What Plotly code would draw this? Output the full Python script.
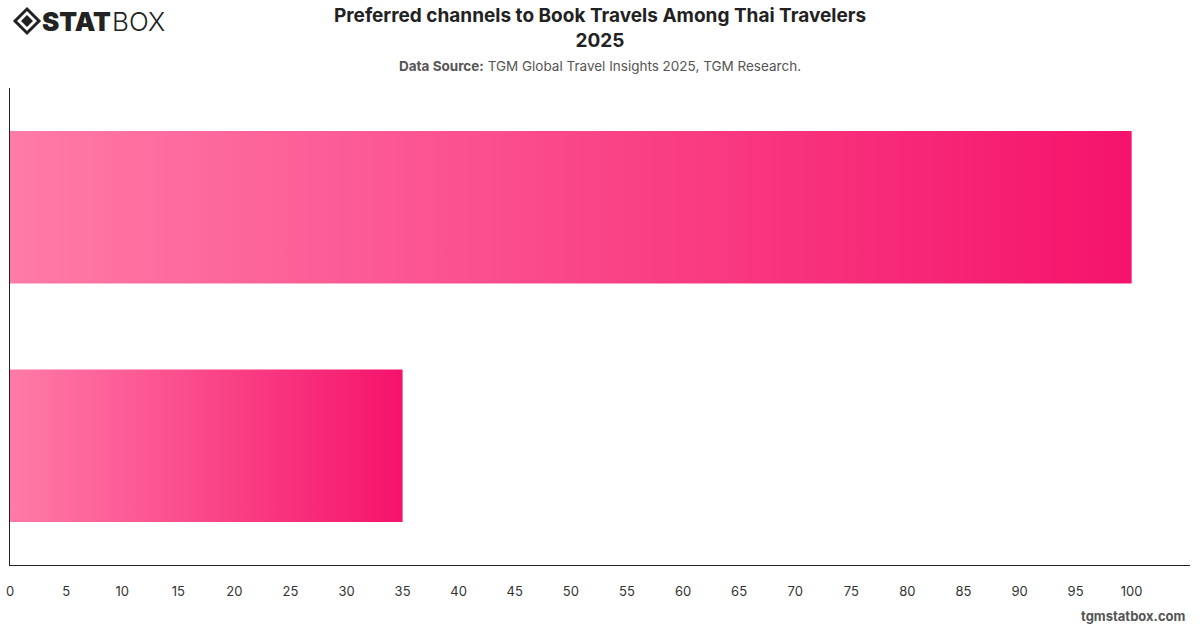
import plotly.graph_objects as go

categories = ["Online", "Offline"]
values = [35, 100]
x_ticks = list(range(0, 101, 5))
color_start = "#FF7BA7"
color_end = "#F5136B"

fig = go.Figure()
half = 0.32
for i, (cat, v) in enumerate(zip(categories, values)):
    fig.add_trace(go.Scatter(
        x=[0, v, v, 0, 0],
        y=[i - half, i - half, i + half, i + half, i - half],
        mode="lines",
        line=dict(width=0),
        fill="toself",
        fillgradient=dict(type="horizontal", colorscale=[[0, color_start], [1, color_end]],
                          start=0, stop=v),
        name=cat,
        hoverinfo="x+name",
        showlegend=False,
    ))

fig.update_layout(
    width=1200, height=628,
    margin=dict(l=10, r=10, t=88, b=63, autoexpand=False),
    paper_bgcolor="white", plot_bgcolor="white",
    font=dict(family="Inter, Roboto, Arial", color="#333"),
    xaxis=dict(range=[0, 105.2], tickmode="array", tickvals=x_ticks,
               ticktext=[str(t) for t in x_ticks], showgrid=False, zeroline=False,
               showline=True, linecolor="#222", linewidth=1, ticks="", automargin=False,
               ticklabelstandoff=14, tickfont=dict(size=13, color="#333")),
    yaxis=dict(range=[-0.5, 1.5], showticklabels=False, showgrid=False, zeroline=False,
               showline=True, linecolor="#222", linewidth=1, ticks="", automargin=False),
)

fig.add_annotation(xref="paper", yref="paper", x=0.5, y=1, xanchor="center", yanchor="bottom",
                   showarrow=False, yshift=34,
                   text="<b>Preferred channels to Book Travels Among Thai Travelers<br>2025</b>",
                   font=dict(size=19, color="#222"))
fig.add_annotation(xref="paper", yref="paper", x=0.5, y=1, xanchor="center", yanchor="bottom",
                   showarrow=False, yshift=12,
                   text="<b>Data Source:</b> TGM Global Travel Insights 2025, TGM Research.",
                   font=dict(size=13.5, color="#555"))
fig.add_annotation(xref="paper", yref="paper", x=1, y=0, xanchor="right", yanchor="top",
                   showarrow=False, yshift=-41, xshift=-2,
                   text="<b>tgmstatbox.com</b>", font=dict(size=13, color="#555"))
fig.add_annotation(xref="paper", yref="paper", x=0, y=1, xanchor="left", yanchor="middle",
                   showarrow=False, xshift=30, yshift=67,
                   text="STAT", font=dict(size=26, color="#222", family="Inter, Arial", weight=900))
fig.add_annotation(xref="paper", yref="paper", x=0, y=1, xanchor="left", yanchor="middle",
                   showarrow=False, xshift=100, yshift=67,
                   text="BOX", font=dict(size=26, color="#222", family="Inter, Arial", weight=300))

def px(x):
    return (x - 10) / 1180
def py(y):
    return (565 - y) / 477
cx, cy = 27, 21
outer = f"M {px(cx-12)} {py(cy)} L {px(cx)} {py(cy-12)} L {px(cx+12)} {py(cy)} L {px(cx)} {py(cy+12)} Z"
inner = f"M {px(cx-6)} {py(cy)} L {px(cx)} {py(cy-6)} L {px(cx+6)} {py(cy)} L {px(cx)} {py(cy+6)} Z"
fig.add_shape(type="path", xref="paper", yref="paper", path=outer,
              line=dict(color="#222", width=3), fillcolor="white")
fig.add_shape(type="path", xref="paper", yref="paper", path=inner,
              line=dict(width=0), fillcolor="#222")

fig.write_html("out.html")
